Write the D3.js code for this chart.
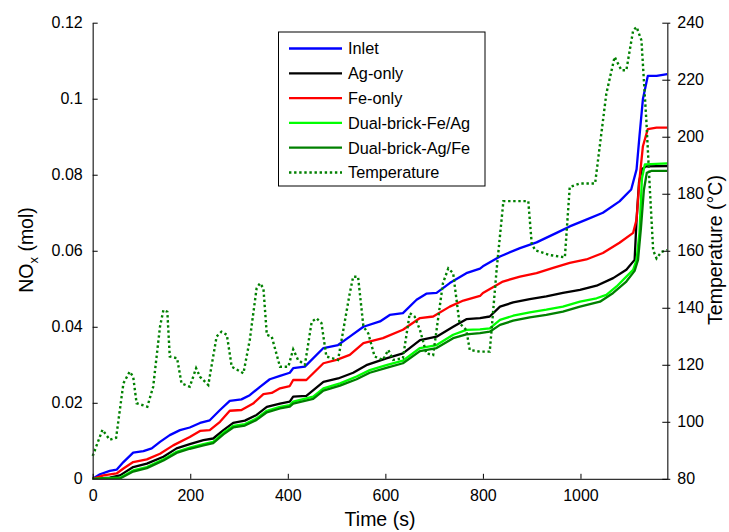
<!DOCTYPE html>
<html><head><meta charset="utf-8">
<script src="https://cdn.jsdelivr.net/npm/d3@7"></script>
<style>body{margin:0;background:#fff}svg{display:block}text{font-family:Arial,"Liberation Sans",sans-serif;fill:#000}</style>
</head><body>
<svg id="chart" width="729" height="532"></svg>
<script>
const seriesNames = ["Inlet","Ag-only","Fe-only","Dual-brick-Fe/Ag","Dual-brick-Ag/Fe","Temperature"];
const seriesColors = ["#0000ff","#000000","#ff0000","#00ff00","#008000","#008000"];

const inletT = [0,15,35,49,63,83,104,121,138,158,179,199,220,240,261,281,305,322,343,363,384,404,411,435,473,503,527,555,589,609,636,664,684,705,732,766,794,800,835,876,910,951,978,1012,1046,1080,1104,1115,1121,1128,1138,1156,1178];
const inletV = [0,0.0012,0.0021,0.0024,0.0044,0.0069,0.0073,0.0080,0.0097,0.0115,0.0128,0.0135,0.0147,0.0154,0.0181,0.0205,0.0209,0.0220,0.0242,0.0262,0.0271,0.0279,0.0291,0.0295,0.0344,0.0352,0.0374,0.0400,0.0414,0.0431,0.0436,0.0471,0.0487,0.0489,0.0515,0.0541,0.0553,0.0559,0.0585,0.0607,0.0622,0.0647,0.0664,0.0682,0.0700,0.0730,0.0761,0.0814,0.0902,0.0999,0.1060,0.1060,0.1065];

const agT = [0,35,56,83,111,145,172,199,227,247,268,288,312,336,357,384,404,411,438,473,503,534,561,602,636,671,705,739,766,794,814,835,862,896,930,964,999,1033,1067,1094,1111,1115,1120,1126,1135,1178];
const agV = [0,0.0003,0.0009,0.0031,0.0040,0.0058,0.0080,0.0091,0.0102,0.0106,0.0128,0.0147,0.0153,0.0168,0.0189,0.0198,0.0203,0.0216,0.0218,0.0255,0.0264,0.0279,0.0299,0.0317,0.0330,0.0365,0.0374,0.0400,0.0420,0.0423,0.0427,0.0453,0.0464,0.0473,0.0480,0.0489,0.0497,0.0508,0.0528,0.0550,0.0576,0.0682,0.0780,0.0815,0.0822,0.0823];

const feT = [0,22,49,63,83,111,138,165,199,220,240,261,281,305,329,350,367,384,404,411,438,473,500,527,555,595,636,671,698,732,760,794,800,841,876,910,944,978,1012,1046,1080,1108,1115,1121,1128,1138,1156,1178];
const feV = [0,0.0009,0.0014,0.0027,0.0044,0.0051,0.0066,0.0088,0.0110,0.0126,0.0128,0.0150,0.0179,0.0181,0.0198,0.0223,0.0226,0.0238,0.0244,0.0260,0.0260,0.0304,0.0313,0.0326,0.0357,0.0370,0.0392,0.0423,0.0427,0.0453,0.0469,0.0481,0.0489,0.0519,0.0532,0.0541,0.0555,0.0568,0.0577,0.0594,0.0621,0.0647,0.0682,0.0788,0.0875,0.0920,0.0924,0.0924];

const dualFeAgT = [0,56,83,111,145,172,199,227,247,268,288,312,336,357,384,404,411,452,473,507,541,568,602,636,671,705,739,766,794,814,835,862,896,930,964,999,1033,1053,1074,1094,1108,1115,1121,1126,1132,1178];
const dualFeAgV = [0,0.0003,0.0022,0.0031,0.0051,0.0071,0.0082,0.0091,0.0097,0.0121,0.0139,0.0144,0.0159,0.0179,0.0189,0.0194,0.0203,0.0216,0.0238,0.0251,0.0269,0.0286,0.0299,0.0311,0.0344,0.0352,0.0379,0.0392,0.0393,0.0396,0.0418,0.0429,0.0438,0.0445,0.0453,0.0466,0.0475,0.0484,0.0506,0.0532,0.0550,0.0576,0.0648,0.0790,0.0827,0.0830];

const dualAgFeT = [0,56,83,111,145,172,199,227,247,268,288,312,336,357,384,404,411,452,473,507,541,568,602,636,671,705,739,766,794,814,835,862,896,930,964,999,1040,1067,1094,1111,1118,1124,1130,1136,1145,1178];
const dualAgFeV = [0,0.0001,0.0019,0.0028,0.0048,0.0068,0.0079,0.0088,0.0094,0.0117,0.0135,0.0140,0.0155,0.0175,0.0185,0.0190,0.0198,0.0210,0.0232,0.0245,0.0262,0.0279,0.0292,0.0304,0.0336,0.0344,0.0370,0.0380,0.0383,0.0387,0.0405,0.0416,0.0425,0.0431,0.0440,0.0453,0.0466,0.0489,0.0519,0.0547,0.0576,0.0660,0.0760,0.0805,0.0810,0.0810];

const tempT = [0,20,35,48,63,76,83,90,112,124,138,145,153,158,173,182,199,212,220,237,254,264,275,285,309,322,336,343,350,357,367,384,401,411,421,435,449,459,469,479,503,527,534,544,555,565,578,595,606,616,636,650,660,671,684,698,718,729,739,752,766,773,794,814,828,842,893,900,907,937,968,978,999,1030,1053,1070,1084,1094,1108,1115,1125,1135,1142,1149,1156,1166,1178];
const tempV = [88,97.2,93.7,94.4,113.5,117.6,115.8,106.5,105.3,112.3,133.4,139.2,138.6,122.9,122.3,113.5,112.3,118.8,115.8,112.9,129.9,131.6,130.5,119.3,117,128.7,146.8,148.6,146.8,130.5,129.9,119.3,119.3,125.4,121.7,120,135.1,136.3,134.6,122.9,121.7,145.1,150.9,150.9,133.4,131,122.9,121.7,125.2,121.7,122.3,138.1,136.9,132.2,124,123.4,148.6,153.8,152.1,134.6,132.2,125.2,124.6,124.6,153.2,177.4,177.4,162.6,160.2,158.5,157.7,182.4,183.6,183.6,215.1,228,223.3,223.3,237.3,238.5,233.8,205.8,182.4,160.2,157.3,159.6,160.2];

const xTicks = [0,200,400,600,800,1000];
const yLeftTicks = [0,0.02,0.04,0.06,0.08,0.1,0.12];
const yRightTicks = [80,100,120,140,160,180,200,220,240];

const svg = d3.select("#chart");
const L = 92.7, R = 667.3, T = 22.7, B = 478.8;
const x = d3.scaleLinear().domain([0,1178]).range([L,R]);
const yL = d3.scaleLinear().domain([0,0.12]).range([B,T]);
const yR = d3.scaleLinear().domain([80,240]).range([B,T]);

const zip = (a,b) => a.map((d,i)=>[d,b[i]]);
const noxData = [[inletT,inletV],[agT,agV],[feT,feV],[dualFeAgT,dualFeAgV],[dualAgFeT,dualAgFeV]];
const g = svg.append("g");
const lineL = d3.line().x(d=>x(d[0])).y(d=>yL(d[1]));
const lineR = d3.line().x(d=>x(d[0])).y(d=>yR(d[1]));

noxData.forEach((s,i)=>{
  g.append("path").datum(zip(s[0],s[1])).attr("d",lineL)
   .attr("fill","none").attr("stroke",seriesColors[i]).attr("stroke-width",2.3).attr("stroke-linejoin","round");
});
g.append("path").datum(zip(tempT,tempV)).attr("d",lineR)
 .attr("fill","none").attr("stroke",seriesColors[5]).attr("stroke-width",2.4).attr("stroke-dasharray","2.4,2.7");

// axes
const fmtL = d=> d===0?"0":String(+d.toFixed(2));
const axL = svg.append("g").attr("transform",`translate(${L},0)`)
  .call(d3.axisLeft(yL).tickValues(yLeftTicks).tickFormat(fmtL).tickSizeInner(-5).tickSizeOuter(0).tickPadding(10));
const axB = svg.append("g").attr("transform",`translate(0,${B})`)
  .call(d3.axisBottom(x).tickValues(xTicks).tickFormat(d3.format("d")).tickSizeInner(-5).tickSizeOuter(0).tickPadding(11));
const axR = svg.append("g").attr("transform",`translate(${R},0)`)
  .call(d3.axisRight(yR).tickValues(yRightTicks).tickSizeInner(-5).tickSizeOuter(0).tickPadding(10));
[axL,axB,axR].forEach(a=>{
  a.selectAll("text").attr("font-size",16).attr("font-family","Arial, 'Liberation Sans', sans-serif");
  a.select(".domain").attr("stroke","#333").attr("stroke-width",1.3);
  a.selectAll(".tick line").attr("stroke","#000");
});
// right outward small tick stubs
axR.selectAll(".tick").append("line").attr("x1",0).attr("x2",3).attr("stroke","#000");

// axis labels
const lab = svg.append("text").attr("transform","translate(33,250) rotate(-90)").attr("text-anchor","middle").attr("font-size",19.5);
lab.append("tspan").text("NO");
lab.append("tspan").attr("font-size",13).attr("dy",5).text("x");
lab.append("tspan").attr("dy",-5).text(" (mol)");
svg.append("text").attr("x",380).attr("y",526).attr("text-anchor","middle").attr("font-size",19.5).text("Time (s)");
svg.append("text").attr("transform","translate(722,250) rotate(-90)").attr("text-anchor","middle").attr("font-size",19.5).text("Temperature (°C)");

// legend
const lg = svg.append("g");
lg.append("rect").attr("x",278.5).attr("y",32).attr("width",206.5).attr("height",154).attr("fill","#fff").attr("stroke","#000").attr("stroke-width",1);
seriesNames.forEach((n,i)=>{
  const yy = 48.5 + i*24.8;
  const ln = lg.append("line").attr("x1",289).attr("x2",342).attr("y1",yy).attr("y2",yy)
    .attr("stroke",seriesColors[i]).attr("stroke-width",2.3);
  if(i===5) ln.attr("stroke-dasharray","2.4,2.7");
  lg.append("text").attr("x",348).attr("y",yy).attr("dy","0.36em").attr("font-size",16.3).text(n);
});
</script>
</body></html>
